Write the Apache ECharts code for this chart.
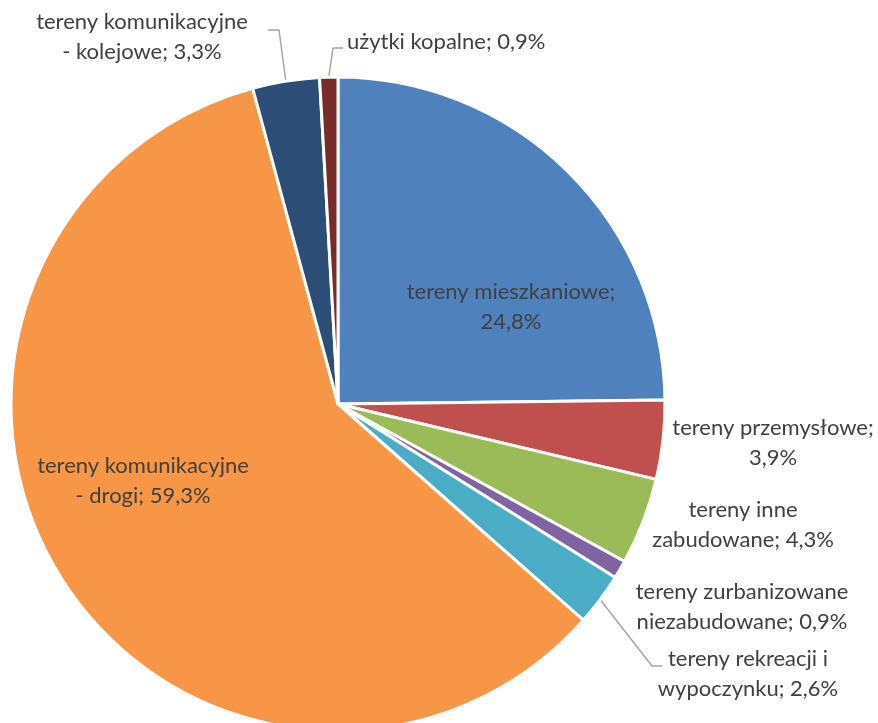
<!DOCTYPE html>
<html>
<head>
<meta charset="utf-8">
<script src="https://cdn.jsdelivr.net/npm/echarts@6/dist/echarts.min.js"></script>
<style>
html,body{margin:0;padding:0;background:#fff;}
#chart{width:878px;height:723px;}
</style>
</head>
<body>
<div id="chart"></div>
<script>
const categories = [
  'tereny mieszkaniowe',
  'tereny przemysłowe',
  'tereny inne zabudowane',
  'tereny zurbanizowane niezabudowane',
  'tereny rekreacji i wypoczynku',
  'tereny komunikacyjne - drogi',
  'tereny komunikacyjne - kolejowe',
  'użytki kopalne'
];
const values = [24.8, 3.9, 4.3, 0.9, 2.6, 59.3, 3.3, 0.9];
const labelTexts = [
  'tereny mieszkaniowe;\n24,8%',
  'tereny przemysłowe;\n3,9%',
  'tereny inne\nzabudowane; 4,3%',
  'tereny zurbanizowane\nniezabudowane; 0,9%',
  'tereny rekreacji i\nwypoczynku; 2,6%',
  'tereny komunikacyjne\n- drogi; 59,3%',
  'tereny komunikacyjne\n- kolejowe; 3,3%',
  'użytki kopalne; 0,9%'
];

const colors = ['#4F81BD', '#C0504D', '#9BBB59', '#8064A2', '#4BACC6', '#F79646', '#2C4D75', '#772C2A'];
// label placement (pixels) and leader-line elbows
const labelPos = [
  {x: 511, y: 307, align: 'center'},
  {x: 773, y: 443, align: 'center'},
  {x: 743, y: 525, align: 'center'},
  {x: 742, y: 607, align: 'center'},
  {x: 748, y: 674, align: 'center'},
  {x: 143, y: 481, align: 'center'},
  {x: 142, y: 37, align: 'center'},
  {x: 347, y: 42, align: 'left'}
];
const elbows = {
  6: [[279, 30], [268, 30]],
  7: [[333, 48], [343, 48]],
  4: [[652, 666], [662, 666]]
};

const chart = echarts.init(document.getElementById('chart'));
const data = categories.map((name, i) => ({
  name: name,
  value: values[i],
  itemStyle: {color: colors[i]},
  label: {formatter: labelTexts[i]},
  labelLine: {show: !!elbows[i]}
}));

chart.setOption({
  animation: false,
  series: [{
    type: 'pie',
    center: [338, 404],
    radius: 327,
    startAngle: 90,
    clockwise: true,
    avoidLabelOverlap: false,
    data: data,
    itemStyle: {borderColor: '#fff', borderWidth: 3},
    label: {
      show: true,
      position: 'outside',
      color: '#404040',
      fontFamily: 'Lato',
      fontSize: 22,
      lineHeight: 30,
      align: 'center'
    },
    labelLine: {
      show: true,
      length: 10,
      length2: 10,
      lineStyle: {color: '#A6A6A6', width: 1.5}
    },
    emphasis: {disabled: true},
    labelLayout: function (params) {
      const i = params.dataIndex;
      const p = labelPos[i];
      const res = {x: p.x, y: p.y, align: p.align, verticalAlign: 'middle'};
      if (elbows[i] && params.labelLinePoints) {
        const pts = params.labelLinePoints;
        res.labelLinePoints = [pts[0], elbows[i][0], elbows[i][1]];
      }
      return res;
    }
  }]
});
</script>
</body>
</html>
